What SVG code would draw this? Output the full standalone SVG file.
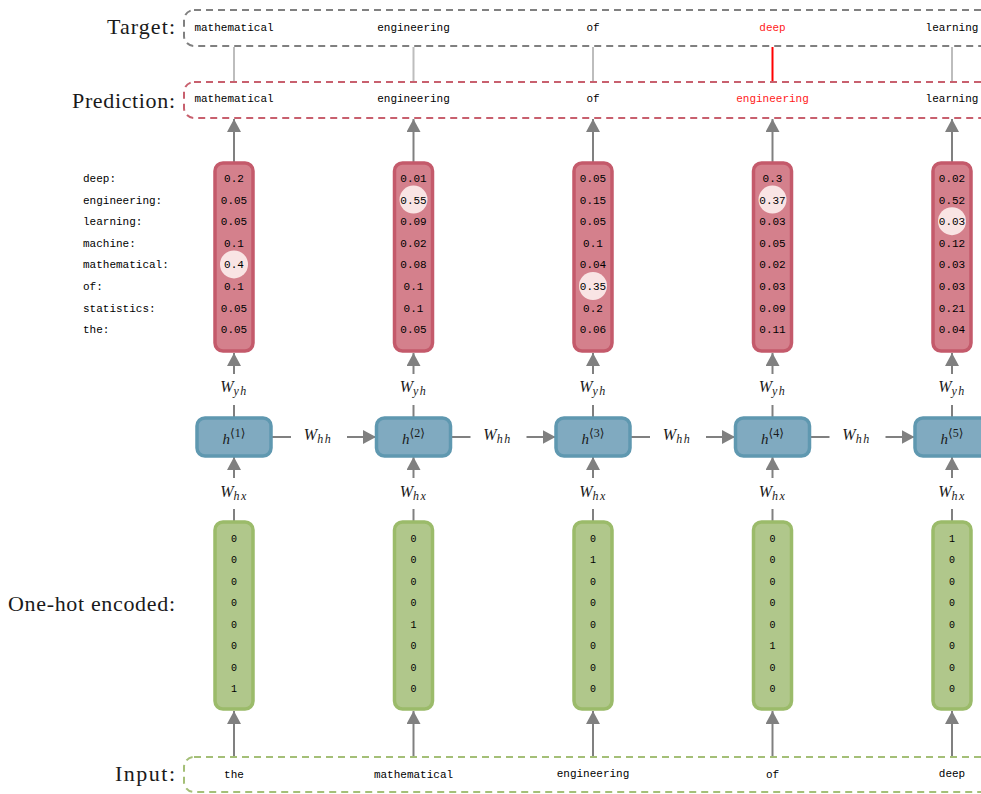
<svg xmlns="http://www.w3.org/2000/svg" width="981" height="794" viewBox="0 0 981 794">
  <defs>
    <marker id="arrow" markerUnits="userSpaceOnUse" markerWidth="14" markerHeight="14" refX="13" refY="7" orient="auto">
      <path d="M0,0 L13,7 L0,14 z" fill="#808080"/>
    </marker>
    <style>
      .mono { font-family: "Liberation Mono", "DejaVu Sans Mono", monospace; font-size: 11px; fill: #000; }
      .small { font-size: 10px; }
      .side { font-family: "Liberation Serif", "DejaVu Serif", serif; font-size: 22px; fill: #1a1a1a; text-anchor: end; }
      .math { font-family: "Liberation Serif", "DejaVu Serif", serif; font-style: italic; fill: #1a1a1a; text-anchor: middle; }
      .sub { font-size: 12px; letter-spacing: 1.5px; }
      .mid { text-anchor: middle; }
      .bad { fill: #ff1a1a; }
      .frame { fill: none; stroke-width: 2; stroke-dasharray: 7 5; }
      .tgt { stroke: #808080; }
      .pred { stroke: #c8606e; }
      .inp { stroke: #a4bf77; }
      .red { fill: #d4808c; stroke: #c45a6b; stroke-width: 3.5; }
      .blue { fill: #80aac0; stroke: #5f98b0; stroke-width: 3.5; }
      .green { fill: #b0c78b; stroke: #9bbb6a; stroke-width: 3.5; }
      .pick { fill: #f9e4e4; }
      .wire { stroke: #808080; stroke-width: 2; fill: none; }
      .arr { stroke: #808080; stroke-width: 2; fill: none; marker-end: url(#arrow); }
      .ok { stroke: #bdbdbd; stroke-width: 2; }
      .err { stroke: #ff0000; stroke-width: 2; }
    </style>
  </defs>

  <!-- row titles -->
  <g id="row-labels">
    <text class="side" x="175" y="34" textLength="68">Target:</text>
    <text class="side" x="175" y="108" textLength="103">Prediction:</text>
    <text class="side" x="175" y="611" textLength="167">One-hot encoded:</text>
    <text class="side" x="175" y="781" textLength="60">Input:</text>
  </g>

  <!-- vocabulary index -->
  <g id="vocab" class="mono">
    <text x="83" y="182">deep:</text>
    <text x="83" y="203.6">engineering:</text>
    <text x="83" y="225.2">learning:</text>
    <text x="83" y="246.8">machine:</text>
    <text x="83" y="268.4">mathematical:</text>
    <text x="83" y="290">of:</text>
    <text x="83" y="311.6">statistics:</text>
    <text x="83" y="333.2">the:</text>
  </g>

  <!-- connectors -->
  <g id="connectors">
    <!-- target vs prediction -->
    <line class="ok" x1="234" y1="47" x2="234" y2="81"/>
    <line class="ok" x1="413.5" y1="47" x2="413.5" y2="81"/>
    <line class="ok" x1="593" y1="47" x2="593" y2="81"/>
    <line class="err" x1="772.5" y1="47" x2="772.5" y2="81"/>
    <line class="ok" x1="952" y1="47" x2="952" y2="81"/>
    <!-- output vectors to prediction -->
    <line class="arr" x1="234" y1="162" x2="234" y2="119"/>
    <line class="arr" x1="413.5" y1="162" x2="413.5" y2="119"/>
    <line class="arr" x1="593" y1="162" x2="593" y2="119"/>
    <line class="arr" x1="772.5" y1="162" x2="772.5" y2="119"/>
    <line class="arr" x1="952" y1="162" x2="952" y2="119"/>
    <!-- hidden to output (W_yh) -->
    <g>
      <line class="wire" x1="234" y1="417" x2="234" y2="405"/>
      <line class="arr" x1="234" y1="374" x2="234" y2="353"/>
      <line class="wire" x1="413.5" y1="417" x2="413.5" y2="405"/>
      <line class="arr" x1="413.5" y1="374" x2="413.5" y2="353"/>
      <line class="wire" x1="593" y1="417" x2="593" y2="405"/>
      <line class="arr" x1="593" y1="374" x2="593" y2="353"/>
      <line class="wire" x1="772.5" y1="417" x2="772.5" y2="405"/>
      <line class="arr" x1="772.5" y1="374" x2="772.5" y2="353"/>
      <line class="wire" x1="952" y1="417" x2="952" y2="405"/>
      <line class="arr" x1="952" y1="374" x2="952" y2="353"/>
    </g>
    <!-- one-hot to hidden (W_hx) -->
    <g>
      <line class="wire" x1="234" y1="521" x2="234" y2="509"/>
      <line class="arr" x1="234" y1="478" x2="234" y2="457"/>
      <line class="wire" x1="413.5" y1="521" x2="413.5" y2="509"/>
      <line class="arr" x1="413.5" y1="478" x2="413.5" y2="457"/>
      <line class="wire" x1="593" y1="521" x2="593" y2="509"/>
      <line class="arr" x1="593" y1="478" x2="593" y2="457"/>
      <line class="wire" x1="772.5" y1="521" x2="772.5" y2="509"/>
      <line class="arr" x1="772.5" y1="478" x2="772.5" y2="457"/>
      <line class="wire" x1="952" y1="521" x2="952" y2="509"/>
      <line class="arr" x1="952" y1="478" x2="952" y2="457"/>
    </g>
    <!-- hidden to hidden (W_hh) -->
    <g>
      <line class="wire" x1="272" y1="437" x2="291" y2="437"/>
      <line class="arr" x1="347" y1="437" x2="376" y2="437"/>
      <line class="wire" x1="451.5" y1="437" x2="470.5" y2="437"/>
      <line class="arr" x1="526.5" y1="437" x2="555.5" y2="437"/>
      <line class="wire" x1="631" y1="437" x2="650" y2="437"/>
      <line class="arr" x1="706" y1="437" x2="735" y2="437"/>
      <line class="wire" x1="810.5" y1="437" x2="829.5" y2="437"/>
      <line class="arr" x1="885.5" y1="437" x2="914.5" y2="437"/>
    </g>
    <!-- input to one-hot -->
    <line class="arr" x1="234" y1="757" x2="234" y2="711"/>
    <line class="arr" x1="413.5" y1="757" x2="413.5" y2="711"/>
    <line class="arr" x1="593" y1="757" x2="593" y2="711"/>
    <line class="arr" x1="772.5" y1="757" x2="772.5" y2="711"/>
    <line class="arr" x1="952" y1="757" x2="952" y2="711"/>
  </g>

  <!-- weight labels -->
  <g id="weights" class="math">
    <text x="234" y="392"><tspan font-size="16">W</tspan><tspan class="sub" dy="3">yh</tspan></text>
    <text x="413.5" y="392"><tspan font-size="16">W</tspan><tspan class="sub" dy="3">yh</tspan></text>
    <text x="593" y="392"><tspan font-size="16">W</tspan><tspan class="sub" dy="3">yh</tspan></text>
    <text x="772.5" y="392"><tspan font-size="16">W</tspan><tspan class="sub" dy="3">yh</tspan></text>
    <text x="952" y="392"><tspan font-size="16">W</tspan><tspan class="sub" dy="3">yh</tspan></text>
    <text x="234" y="497"><tspan font-size="16">W</tspan><tspan class="sub" dy="3">hx</tspan></text>
    <text x="413.5" y="497"><tspan font-size="16">W</tspan><tspan class="sub" dy="3">hx</tspan></text>
    <text x="593" y="497"><tspan font-size="16">W</tspan><tspan class="sub" dy="3">hx</tspan></text>
    <text x="772.5" y="497"><tspan font-size="16">W</tspan><tspan class="sub" dy="3">hx</tspan></text>
    <text x="952" y="497"><tspan font-size="16">W</tspan><tspan class="sub" dy="3">hx</tspan></text>
    <text x="318" y="440"><tspan font-size="16">W</tspan><tspan class="sub" dy="3">hh</tspan></text>
    <text x="497.5" y="440"><tspan font-size="16">W</tspan><tspan class="sub" dy="3">hh</tspan></text>
    <text x="677" y="440"><tspan font-size="16">W</tspan><tspan class="sub" dy="3">hh</tspan></text>
    <text x="856.5" y="440"><tspan font-size="16">W</tspan><tspan class="sub" dy="3">hh</tspan></text>
  </g>

  <!-- target sequence -->
  <g id="target">
    <rect class="frame tgt" x="184" y="10" width="830" height="36" rx="10"/>
    <g class="mono mid">
      <text x="234" y="31">mathematical</text>
      <text x="413.5" y="31">engineering</text>
      <text x="593" y="31">of</text>
      <text x="772.5" y="31" class="bad">deep</text>
      <text x="952" y="31">learning</text>
    </g>
  </g>

  <!-- predicted sequence -->
  <g id="prediction">
    <rect class="frame pred" x="184" y="82" width="830" height="36" rx="10"/>
    <g class="mono mid">
      <text x="234" y="102">mathematical</text>
      <text x="413.5" y="102">engineering</text>
      <text x="593" y="102">of</text>
      <text x="772.5" y="102" class="bad">engineering</text>
      <text x="952" y="102">learning</text>
    </g>
  </g>

  <!-- input sequence -->
  <g id="input">
    <rect class="frame inp" x="184" y="757" width="830" height="35" rx="10"/>
    <g class="mono mid">
      <text x="234" y="778">the</text>
      <text x="413.5" y="778">mathematical</text>
      <text x="593" y="777">engineering</text>
      <text x="772.5" y="778">of</text>
      <text x="952" y="777">deep</text>
    </g>
  </g>

  <!-- softmax outputs -->
  <g id="y1">
    <rect class="red" x="215" y="163" width="38" height="188" rx="8"/>
    <circle class="pick" cx="234" cy="264.4" r="14"/>
    <g class="mono mid">
      <text x="234" y="182">0.2</text><text x="234" y="203.6">0.05</text><text x="234" y="225.2">0.05</text><text x="234" y="246.8">0.1</text>
      <text x="234" y="268.4">0.4</text><text x="234" y="290">0.1</text><text x="234" y="311.6">0.05</text><text x="234" y="333.2">0.05</text>
    </g>
  </g>
  <g id="y2">
    <rect class="red" x="394.5" y="163" width="38" height="188" rx="8"/>
    <circle class="pick" cx="413.5" cy="199.6" r="14"/>
    <g class="mono mid">
      <text x="413.5" y="182">0.01</text><text x="413.5" y="203.6">0.55</text><text x="413.5" y="225.2">0.09</text><text x="413.5" y="246.8">0.02</text>
      <text x="413.5" y="268.4">0.08</text><text x="413.5" y="290">0.1</text><text x="413.5" y="311.6">0.1</text><text x="413.5" y="333.2">0.05</text>
    </g>
  </g>
  <g id="y3">
    <rect class="red" x="574" y="163" width="38" height="188" rx="8"/>
    <circle class="pick" cx="593" cy="286" r="14"/>
    <g class="mono mid">
      <text x="593" y="182">0.05</text><text x="593" y="203.6">0.15</text><text x="593" y="225.2">0.05</text><text x="593" y="246.8">0.1</text>
      <text x="593" y="268.4">0.04</text><text x="593" y="290">0.35</text><text x="593" y="311.6">0.2</text><text x="593" y="333.2">0.06</text>
    </g>
  </g>
  <g id="y4">
    <rect class="red" x="753.5" y="163" width="38" height="188" rx="8"/>
    <circle class="pick" cx="772.5" cy="199.6" r="14"/>
    <g class="mono mid">
      <text x="772.5" y="182">0.3</text><text x="772.5" y="203.6">0.37</text><text x="772.5" y="225.2">0.03</text><text x="772.5" y="246.8">0.05</text>
      <text x="772.5" y="268.4">0.02</text><text x="772.5" y="290">0.03</text><text x="772.5" y="311.6">0.09</text><text x="772.5" y="333.2">0.11</text>
    </g>
  </g>
  <g id="y5">
    <rect class="red" x="933" y="163" width="38" height="188" rx="8"/>
    <circle class="pick" cx="952" cy="221.2" r="14"/>
    <g class="mono mid">
      <text x="952" y="182">0.02</text><text x="952" y="203.6">0.52</text><text x="952" y="225.2">0.03</text><text x="952" y="246.8">0.12</text>
      <text x="952" y="268.4">0.03</text><text x="952" y="290">0.03</text><text x="952" y="311.6">0.21</text><text x="952" y="333.2">0.04</text>
    </g>
  </g>

  <!-- hidden states -->
  <g id="h1">
    <rect class="blue" x="197" y="418" width="74" height="38" rx="8"/>
    <text class="math" x="234" y="444"><tspan font-size="15">h</tspan><tspan font-size="12" font-style="normal" dy="-7">⟨1⟩</tspan></text>
  </g>
  <g id="h2">
    <rect class="blue" x="376.5" y="418" width="74" height="38" rx="8"/>
    <text class="math" x="413.5" y="444"><tspan font-size="15">h</tspan><tspan font-size="12" font-style="normal" dy="-7">⟨2⟩</tspan></text>
  </g>
  <g id="h3">
    <rect class="blue" x="556" y="418" width="74" height="38" rx="8"/>
    <text class="math" x="593" y="444"><tspan font-size="15">h</tspan><tspan font-size="12" font-style="normal" dy="-7">⟨3⟩</tspan></text>
  </g>
  <g id="h4">
    <rect class="blue" x="735.5" y="418" width="74" height="38" rx="8"/>
    <text class="math" x="772.5" y="444"><tspan font-size="15">h</tspan><tspan font-size="12" font-style="normal" dy="-7">⟨4⟩</tspan></text>
  </g>
  <g id="h5">
    <rect class="blue" x="915" y="418" width="74" height="38" rx="8"/>
    <text class="math" x="952" y="444"><tspan font-size="15">h</tspan><tspan font-size="12" font-style="normal" dy="-7">⟨5⟩</tspan></text>
  </g>

  <!-- one-hot inputs -->
  <g id="x1">
    <rect class="green" x="215" y="522" width="38" height="187" rx="8"/>
    <g class="mono small mid">
      <text x="234" y="541.5">0</text><text x="234" y="563">0</text><text x="234" y="584.5">0</text><text x="234" y="606">0</text>
      <text x="234" y="627.5">0</text><text x="234" y="649">0</text><text x="234" y="670.5">0</text><text x="234" y="692">1</text>
    </g>
  </g>
  <g id="x2">
    <rect class="green" x="394.5" y="522" width="38" height="187" rx="8"/>
    <g class="mono small mid">
      <text x="413.5" y="541.5">0</text><text x="413.5" y="563">0</text><text x="413.5" y="584.5">0</text><text x="413.5" y="606">0</text>
      <text x="413.5" y="627.5">1</text><text x="413.5" y="649">0</text><text x="413.5" y="670.5">0</text><text x="413.5" y="692">0</text>
    </g>
  </g>
  <g id="x3">
    <rect class="green" x="574" y="522" width="38" height="187" rx="8"/>
    <g class="mono small mid">
      <text x="593" y="541.5">0</text><text x="593" y="563">1</text><text x="593" y="584.5">0</text><text x="593" y="606">0</text>
      <text x="593" y="627.5">0</text><text x="593" y="649">0</text><text x="593" y="670.5">0</text><text x="593" y="692">0</text>
    </g>
  </g>
  <g id="x4">
    <rect class="green" x="753.5" y="522" width="38" height="187" rx="8"/>
    <g class="mono small mid">
      <text x="772.5" y="541.5">0</text><text x="772.5" y="563">0</text><text x="772.5" y="584.5">0</text><text x="772.5" y="606">0</text>
      <text x="772.5" y="627.5">0</text><text x="772.5" y="649">1</text><text x="772.5" y="670.5">0</text><text x="772.5" y="692">0</text>
    </g>
  </g>
  <g id="x5">
    <rect class="green" x="933" y="522" width="38" height="187" rx="8"/>
    <g class="mono small mid">
      <text x="952" y="541.5">1</text><text x="952" y="563">0</text><text x="952" y="584.5">0</text><text x="952" y="606">0</text>
      <text x="952" y="627.5">0</text><text x="952" y="649">0</text><text x="952" y="670.5">0</text><text x="952" y="692">0</text>
    </g>
  </g>
</svg>
